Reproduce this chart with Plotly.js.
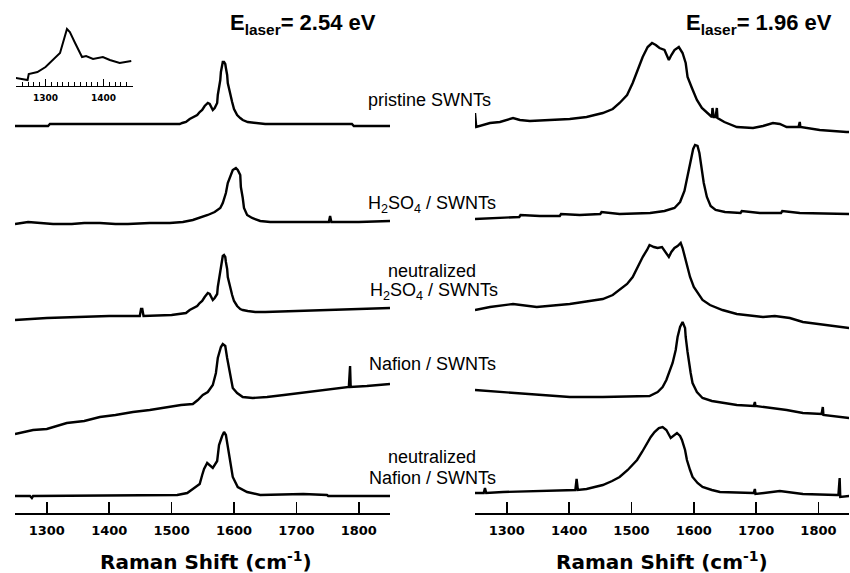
<!DOCTYPE html>
<html><head><meta charset="utf-8">
<script src="https://cdn.plot.ly/plotly-3.0.1.min.js"></script>
<style>html,body{margin:0;padding:0;background:#fff}#chart{width:850px;height:573px}</style>
</head><body><div id="chart"></div>
<script>
// ---------- tick labels ----------
const tickValues = [1300, 1400, 1500, 1600, 1700, 1800];
const insetTickValues = [1300, 1400];

// ---------- E_laser = 2.54 eV (left panel), intensity incl. stacking offset (a.u.) ----------
const pristineL_x = [1249,1276,1302,1305,1400,1513,1517,1523,1529,1536,1541,1545,1549,1553,1558,1561,1565,1566,1569,1573,1574,1576,1578,1579,1581,1582,1584,1586,1587,1589,1590,1592,1594,1597,1600,1605,1610,1614,1622,1634,1650,1789,1792,1850];
const pristineL_y = [387,387,387,389,389,389,390,391,394,396,398,401,403,407,410,409,405,403,405,410,418,425,433,441,447,451,451,449,445,438,430,424,419,411,404,398,395,393,391,390,389,389,387,387];

const acidL_x = [1249,1270,1290,1310,1340,1360,1385,1410,1430,1465,1497,1518,1534,1545,1558,1569,1578,1582,1587,1590,1595,1598,1603,1606,1610,1611,1614,1616,1621,1629,1642,1658,1700,1752,1754,1756,1800,1850];
const acidL_y = [289,291,290,289,289,290,290,289,289,290,290,291,293,295,298,301,305,310,320,330,338,343,345,343,338,326,315,305,298,295,292,291,291,291,297,291,291,292];

const neutAcidL_x = [1249,1300,1350,1400,1449,1451,1453,1455,1500,1517,1523,1529,1536,1541,1545,1549,1553,1558,1561,1565,1566,1569,1573,1574,1576,1578,1579,1581,1582,1584,1586,1587,1589,1590,1592,1594,1597,1600,1605,1610,1614,1622,1634,1650,1700,1750,1800,1850];
const neutAcidL_y = [193,195,196,197,197,204,204,197,198,199,200,203,205,207,210,212,216,220,219,215,213,215,219,226,233,240,247,253,257,258,256,251,244,236,230,225,218,212,207,204,203,202,201,201,202,203,204,205];

const nafionL_x = [1249,1278,1300,1332,1360,1385,1410,1438,1465,1493,1515,1534,1542,1550,1558,1566,1571,1574,1579,1582,1586,1589,1594,1598,1605,1614,1630,1653,1680,1706,1730,1759,1784,1786,1787,1813,1830,1850];
const nafionL_y = [79,83,84,90,92,96,98,101,103,106,108,109,113,118,121,128,140,155,166,169,167,155,136,125,120,116,115,116,118,120,122,124,126,147,126,127,128,129];

const neutNafionL_x = [1249,1273,1276,1278,1509,1525,1534,1545,1549,1552,1557,1561,1566,1573,1576,1581,1584,1587,1590,1595,1598,1606,1621,1642,1711,1749,1751,1850];
const neutNafionL_y = [17,17,15,17,18,20,24,29,38,44,50,48,45,52,68,77,81,78,66,50,36,26,21,18,19,18,17,17];

// ---------- inset (D band, 2.54 eV pristine) ----------
const inset_x = [1248,1269,1271,1286,1300,1313,1325,1337,1342,1351,1363,1370,1382,1399,1411,1428,1448];
const inset_y = [8,6,12,14,19,26,33,57,54,43,29,30,27,29,26,23,25];

// ---------- E_laser = 1.96 eV (right panel) ----------
const pristineR_x = [1249,1251,1273,1289,1310,1321,1337,1369,1401,1428,1454,1470,1481,1493,1502,1510,1518,1526,1533,1539,1545,1553,1560,1564,1569,1576,1582,1587,1590,1597,1605,1613,1621,1629,1630,1632,1635,1637,1638,1649,1669,1695,1711,1727,1738,1749,1768,1770,1771,1802,1845,1850];
const pristineR_y = [400,386,390,391,395,393,392,393,394,396,400,404,410,418,430,443,456,466,470,468,465,463,453,458,463,466,460,450,436,425,413,405,400,396,405,396,396,405,395,391,386,385,387,390,389,386,386,391,386,383,381,381];

const acidR_x = [1249,1289,1320,1322,1353,1385,1387,1417,1450,1452,1481,1530,1553,1569,1578,1585,1590,1595,1599,1602,1606,1609,1612,1616,1621,1627,1635,1650,1675,1677,1706,1740,1742,1770,1850];
const acidR_y = [294,295,296,298,297,297,299,298,299,301,299,300,302,305,311,322,336,352,364,368,367,360,346,330,316,307,303,301,300,302,300,300,302,300,299];

const neutAcidR_x = [1249,1273,1310,1348,1401,1454,1470,1481,1493,1502,1510,1518,1525,1529,1536,1542,1549,1555,1560,1564,1569,1574,1579,1582,1586,1590,1594,1600,1605,1614,1626,1646,1669,1711,1730,1754,1775,1850];
const neutAcidR_y = [203,206,209,206,209,214,218,223,229,236,246,256,263,268,266,265,266,261,256,261,265,267,270,265,256,245,236,226,221,213,208,203,199,196,197,195,191,185];

const nafionR_x = [1249,1294,1348,1401,1454,1529,1542,1550,1556,1561,1566,1571,1574,1578,1582,1586,1587,1590,1592,1595,1598,1605,1614,1629,1669,1696,1698,1699,1749,1775,1805,1807,1808,1850];
const nafionR_y = [123,121,119,116,116,117,121,126,133,141,150,163,176,186,191,185,176,161,150,140,130,121,115,112,108,107,111,107,103,100,99,106,98,95];

const neutNafionR_x = [1249,1263,1265,1267,1294,1348,1401,1410,1412,1414,1428,1454,1469,1481,1494,1509,1517,1525,1531,1537,1544,1550,1556,1563,1568,1573,1578,1581,1586,1589,1594,1598,1606,1614,1629,1642,1695,1696,1698,1699,1738,1775,1829,1832,1834,1835,1850];
const neutNafionR_y = [20,20,25,20,21,22,23,23,34,23,24,28,32,36,43,53,61,70,76,81,85,86,83,75,78,80,77,73,63,53,43,36,30,26,23,21,20,20,24,19,22,19,18,18,35,16,17];

// ---------- labels ----------
const sampleLabels = ['pristine SWNTs', 'H<sub>2</sub>SO<sub>4</sub> / SWNTs', 'neutralized', 'H<sub>2</sub>SO<sub>4</sub> / SWNTs', 'Nafion / SWNTs', 'neutralized', 'Nafion / SWNTs'];
const panelTitles = ['E<sub>laser</sub>= 2.54 eV', 'E<sub>laser</sub>= 1.96 eV'];
const axisTitle = 'Raman Shift (cm<sup>-1</sup>)';

// ---------- build ----------
const W = 850, H = 573, PLOT_H = 513;
const lineStyle = {color: '#000', width: 2.4};
function tr(x, y, xa, ya) {
  return {x: x, y: y, xaxis: xa, yaxis: ya, type: 'scatter', mode: 'lines', line: lineStyle, hoverinfo: 'skip', showlegend: false, cliponaxis: false};
}
const data = [
  tr(pristineL_x, pristineL_y, 'x', 'y'),
  tr(acidL_x, acidL_y, 'x', 'y'),
  tr(neutAcidL_x, neutAcidL_y, 'x', 'y'),
  tr(nafionL_x, nafionL_y, 'x', 'y'),
  tr(neutNafionL_x, neutNafionL_y, 'x', 'y'),
  tr(pristineR_x, pristineR_y, 'x2', 'y2'),
  tr(acidR_x, acidR_y, 'x2', 'y2'),
  tr(neutAcidR_x, neutAcidR_y, 'x2', 'y2'),
  tr(nafionR_x, nafionR_y, 'x2', 'y2'),
  tr(neutNafionR_x, neutNafionR_y, 'x2', 'y2'),
  Object.assign(tr(inset_x, inset_y, 'x3', 'y3'), {line: {color: '#000', width: 2}})
];

const px = v => v / W;
const py = v => (PLOT_H - v) / PLOT_H;

const tickFont = {family: 'DejaVu Sans', size: 13, color: '#000', weight: 700};
function mainX(domain, range, anchor) {
  return {domain: domain, range: range, anchor: anchor, showline: true, linecolor: '#000', linewidth: 1.6,
    ticks: 'inside', ticklen: 11, tickwidth: 1.5, tickcolor: '#000', tickmode: 'array', tickvals: tickValues,
    tickfont: tickFont, ticklabelstandoff: 5, showgrid: false, zeroline: false, fixedrange: true};
}
function hiddenY(anchor, domain, range) {
  return {anchor: anchor, domain: domain, range: range, visible: false, showgrid: false, zeroline: false, fixedrange: true};
}

const labelFont = {family: 'Arial, Liberation Sans', size: 18, color: '#000'};
function lab(text, x, y, xanchor) {
  return {text: text, xref: 'paper', yref: 'paper', x: px(x), y: py(y), xanchor: xanchor, yanchor: 'middle', showarrow: false, font: labelFont};
}
const titleFont = {family: 'Arial, Liberation Sans', size: 22, color: '#000', weight: 700};
const axTitleFont = {family: 'DejaVu Sans', size: 20, color: '#000', weight: 700};

const layout = {
  width: W, height: H,
  margin: {l: 0, r: 0, t: 0, b: H - PLOT_H, pad: 0},
  paper_bgcolor: '#fff', plot_bgcolor: 'rgba(0,0,0,0)',
  showlegend: false,
  xaxis: mainX([px(15), px(390)], [1249, 1850], 'y'),
  yaxis: hiddenY('x', [0, 1], [0, PLOT_H]),
  xaxis2: mainX([px(475), px(849)], [1249, 1849], 'y2'),
  yaxis2: hiddenY('x2', [0, 1], [0, PLOT_H]),
  xaxis3: {domain: [px(16), px(133)], range: [1249, 1451], anchor: 'y3', showline: true, linecolor: '#000', linewidth: 1.3,
    ticks: 'inside', ticklen: 7, tickwidth: 1.2, tickcolor: '#000', tickmode: 'array', tickvals: insetTickValues,
    tickfont: {family: 'DejaVu Sans', size: 9, color: '#000', weight: 700}, ticklabelstandoff: 3,
    minor: {ticks: 'inside', ticklen: 4, tickwidth: 1, tickcolor: '#000', dtick: 10, tick0: 1250, showgrid: false},
    showgrid: false, zeroline: false, fixedrange: true},
  yaxis3: hiddenY('x3', [py(86), py(20)], [0, 66]),
  annotations: [
    {text: panelTitles[0], xref: 'paper', yref: 'paper', x: px(228), y: py(24), xanchor: 'left', yanchor: 'middle', showarrow: false, font: titleFont},
    {text: panelTitles[1], xref: 'paper', yref: 'paper', x: px(684), y: py(24), xanchor: 'left', yanchor: 'middle', showarrow: false, font: titleFont},
    lab(sampleLabels[0], 366, 100, 'left'),
    lab(sampleLabels[1], 366, 204, 'left'),
    lab(sampleLabels[2], 432, 271, 'center'),
    lab(sampleLabels[3], 368, 291, 'left'),
    lab(sampleLabels[4], 367, 364, 'left'),
    lab(sampleLabels[5], 432, 457, 'center'),
    lab(sampleLabels[6], 367, 478, 'left'),
    {text: axisTitle, xref: 'paper', yref: 'paper', x: px(206), y: py(561), xanchor: 'center', yanchor: 'middle', showarrow: false, font: axTitleFont},
    {text: axisTitle, xref: 'paper', yref: 'paper', x: px(662), y: py(561), xanchor: 'center', yanchor: 'middle', showarrow: false, font: axTitleFont}
  ]
};

Plotly.newPlot('chart', data, layout, {staticPlot: true, displayModeBar: false});
</script>
</body></html>
